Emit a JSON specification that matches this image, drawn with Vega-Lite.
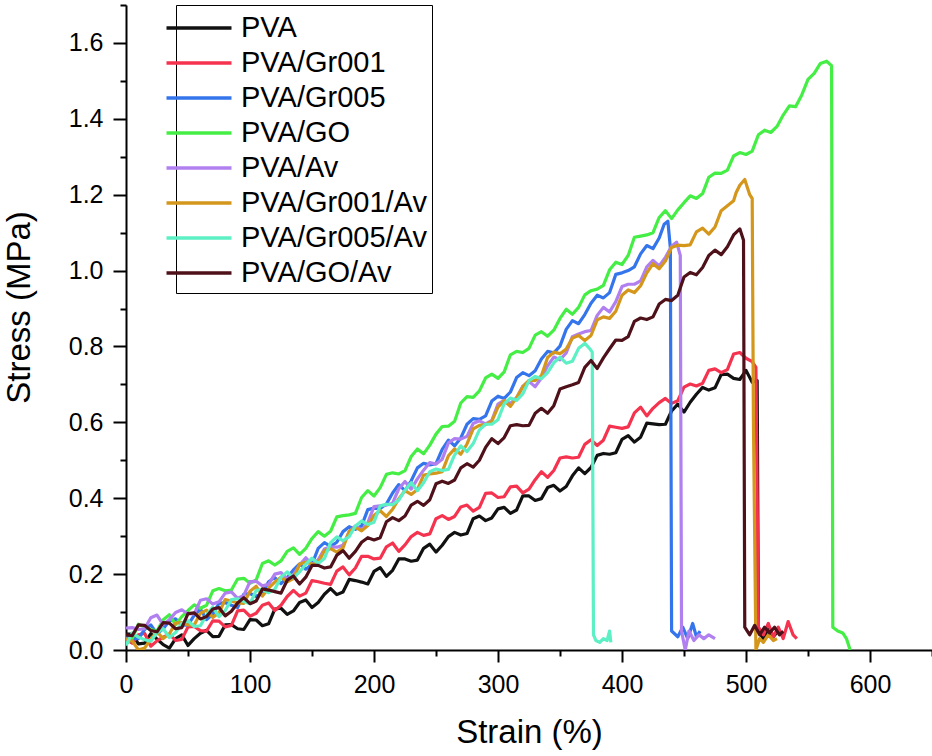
{
  "$schema": "https://vega.github.io/schema/vega-lite/v6.json",
  "width": 806,
  "height": 645,
  "autosize": {"type": "none"},
  "padding": {"left": 126, "top": 5, "right": 0, "bottom": 106},
  "background": "white",
  "config": {
    "view": {"stroke": null},
    "font": "Liberation Sans",
    "axis": {"grid": false, "domainColor": "black", "tickColor": "black", "labelColor": "black", "titleColor": "black", "domainWidth": 2, "tickWidth": 2, "labelFont": "Liberation Sans", "titleFont": "Liberation Sans", "labelFontSize": 25, "titleFontSize": 33, "titleFontWeight": "normal"}
  },
  "data": {"values": [
    {"s":"PVA","x":0,"y":0.042},{"s":"PVA","x":10,"y":0.016},{"s":"PVA","x":20,"y":0.043},{"s":"PVA","x":30,"y":0.014},{"s":"PVA","x":40,"y":0.03},{"s":"PVA","x":50,"y":0.012},{"s":"PVA","x":60,"y":0.044},{"s":"PVA","x":70,"y":0.035},{"s":"PVA","x":80,"y":0.066},{"s":"PVA","x":90,"y":0.056},{"s":"PVA","x":100,"y":0.08},{"s":"PVA","x":110,"y":0.064},{"s":"PVA","x":120,"y":0.108},{"s":"PVA","x":130,"y":0.094},{"s":"PVA","x":140,"y":0.125},{"s":"PVA","x":150,"y":0.112},{"s":"PVA","x":160,"y":0.147},{"s":"PVA","x":170,"y":0.146},{"s":"PVA","x":180,"y":0.186},{"s":"PVA","x":190,"y":0.179},{"s":"PVA","x":200,"y":0.207},{"s":"PVA","x":210,"y":0.194},{"s":"PVA","x":220,"y":0.24},{"s":"PVA","x":230,"y":0.234},{"s":"PVA","x":240,"y":0.268},{"s":"PVA","x":250,"y":0.258},{"s":"PVA","x":260,"y":0.299},{"s":"PVA","x":270,"y":0.303},{"s":"PVA","x":280,"y":0.346},{"s":"PVA","x":290,"y":0.341},{"s":"PVA","x":300,"y":0.372},{"s":"PVA","x":310,"y":0.36},{"s":"PVA","x":320,"y":0.406},{"s":"PVA","x":330,"y":0.394},{"s":"PVA","x":340,"y":0.428},{"s":"PVA","x":350,"y":0.419},{"s":"PVA","x":360,"y":0.459},{"s":"PVA","x":370,"y":0.465},{"s":"PVA","x":380,"y":0.513},{"s":"PVA","x":390,"y":0.516},{"s":"PVA","x":400,"y":0.555},{"s":"PVA","x":410,"y":0.548},{"s":"PVA","x":420,"y":0.598},{"s":"PVA","x":430,"y":0.594},{"s":"PVA","x":440,"y":0.63},{"s":"PVA","x":450,"y":0.627},{"s":"PVA","x":460,"y":0.674},{"s":"PVA","x":470,"y":0.685},{"s":"PVA","x":480,"y":0.726},{"s":"PVA","x":490,"y":0.716},{"s":"PVA","x":500,"y":0.737},{"s":"PVA","x":505,"y":0.706},{"s":"PVA","x":509,"y":0.71},{"s":"PVA","x":510,"y":0.05},{"s":"PVA","x":514,"y":0.03},{"s":"PVA","x":518,"y":0.055},{"s":"PVA","x":522,"y":0.035},{"s":"PVA","x":526,"y":0.05},{"s":"PVA","x":530,"y":0.04},
    {"s":"PVA","x":5,"y":0.042},{"s":"PVA","x":15,"y":0.018},{"s":"PVA","x":25,"y":0.029},{"s":"PVA","x":35,"y":0.005},{"s":"PVA","x":45,"y":0.04},{"s":"PVA","x":55,"y":0.03},{"s":"PVA","x":65,"y":0.052},{"s":"PVA","x":75,"y":0.036},{"s":"PVA","x":85,"y":0.067},{"s":"PVA","x":95,"y":0.054},{"s":"PVA","x":105,"y":0.079},{"s":"PVA","x":115,"y":0.069},{"s":"PVA","x":125,"y":0.11},{"s":"PVA","x":135,"y":0.103},{"s":"PVA","x":145,"y":0.132},{"s":"PVA","x":155,"y":0.125},{"s":"PVA","x":165,"y":0.162},{"s":"PVA","x":175,"y":0.153},{"s":"PVA","x":185,"y":0.183},{"s":"PVA","x":195,"y":0.174},{"s":"PVA","x":205,"y":0.217},{"s":"PVA","x":215,"y":0.21},{"s":"PVA","x":225,"y":0.24},{"s":"PVA","x":235,"y":0.237},{"s":"PVA","x":245,"y":0.279},{"s":"PVA","x":255,"y":0.276},{"s":"PVA","x":265,"y":0.31},{"s":"PVA","x":275,"y":0.307},{"s":"PVA","x":285,"y":0.353},{"s":"PVA","x":295,"y":0.348},{"s":"PVA","x":305,"y":0.376},{"s":"PVA","x":315,"y":0.369},{"s":"PVA","x":325,"y":0.406},{"s":"PVA","x":335,"y":0.399},{"s":"PVA","x":345,"y":0.434},{"s":"PVA","x":355,"y":0.431},{"s":"PVA","x":365,"y":0.48},{"s":"PVA","x":375,"y":0.481},{"s":"PVA","x":385,"y":0.518},{"s":"PVA","x":395,"y":0.52},{"s":"PVA","x":405,"y":0.565},{"s":"PVA","x":415,"y":0.561},{"s":"PVA","x":425,"y":0.596},{"s":"PVA","x":435,"y":0.595},{"s":"PVA","x":445,"y":0.648},{"s":"PVA","x":455,"y":0.653},{"s":"PVA","x":465,"y":0.692},{"s":"PVA","x":475,"y":0.691},{"s":"PVA","x":485,"y":0.727},{"s":"PVA","x":495,"y":0.713},

    {"s":"PVA/Gr001","x":0,"y":0.029},{"s":"PVA/Gr001","x":10,"y":0.04},{"s":"PVA/Gr001","x":20,"y":0.01},{"s":"PVA/Gr001","x":30,"y":0.034},{"s":"PVA/Gr001","x":40,"y":0.025},{"s":"PVA/Gr001","x":50,"y":0.061},{"s":"PVA/Gr001","x":60,"y":0.051},{"s":"PVA/Gr001","x":70,"y":0.077},{"s":"PVA/Gr001","x":80,"y":0.061},{"s":"PVA/Gr001","x":90,"y":0.103},{"s":"PVA/Gr001","x":100,"y":0.089},{"s":"PVA/Gr001","x":110,"y":0.118},{"s":"PVA/Gr001","x":120,"y":0.104},{"s":"PVA/Gr001","x":130,"y":0.141},{"s":"PVA/Gr001","x":140,"y":0.142},{"s":"PVA/Gr001","x":150,"y":0.183},{"s":"PVA/Gr001","x":160,"y":0.176},{"s":"PVA/Gr001","x":170,"y":0.208},{"s":"PVA/Gr001","x":180,"y":0.198},{"s":"PVA/Gr001","x":190,"y":0.247},{"s":"PVA/Gr001","x":200,"y":0.24},{"s":"PVA/Gr001","x":210,"y":0.272},{"s":"PVA/Gr001","x":220,"y":0.26},{"s":"PVA/Gr001","x":230,"y":0.299},{"s":"PVA/Gr001","x":240,"y":0.302},{"s":"PVA/Gr001","x":250,"y":0.346},{"s":"PVA/Gr001","x":260,"y":0.344},{"s":"PVA/Gr001","x":270,"y":0.377},{"s":"PVA/Gr001","x":280,"y":0.366},{"s":"PVA/Gr001","x":290,"y":0.413},{"s":"PVA/Gr001","x":300,"y":0.402},{"s":"PVA/Gr001","x":310,"y":0.43},{"s":"PVA/Gr001","x":320,"y":0.414},{"s":"PVA/Gr001","x":330,"y":0.449},{"s":"PVA/Gr001","x":340,"y":0.455},{"s":"PVA/Gr001","x":350,"y":0.506},{"s":"PVA/Gr001","x":360,"y":0.506},{"s":"PVA/Gr001","x":370,"y":0.542},{"s":"PVA/Gr001","x":380,"y":0.539},{"s":"PVA/Gr001","x":390,"y":0.59},{"s":"PVA/Gr001","x":400,"y":0.584},{"s":"PVA/Gr001","x":410,"y":0.625},{"s":"PVA/Gr001","x":420,"y":0.617},{"s":"PVA/Gr001","x":430,"y":0.652},{"s":"PVA/Gr001","x":440,"y":0.65},{"s":"PVA/Gr001","x":450,"y":0.693},{"s":"PVA/Gr001","x":460,"y":0.696},{"s":"PVA/Gr001","x":470,"y":0.737},{"s":"PVA/Gr001","x":480,"y":0.731},{"s":"PVA/Gr001","x":490,"y":0.78},{"s":"PVA/Gr001","x":500,"y":0.769},{"s":"PVA/Gr001","x":505,"y":0.76},{"s":"PVA/Gr001","x":508,"y":0.745},{"s":"PVA/Gr001","x":510,"y":0.06},{"s":"PVA/Gr001","x":514,"y":0.04},{"s":"PVA/Gr001","x":518,"y":0.07},{"s":"PVA/Gr001","x":522,"y":0.035},{"s":"PVA/Gr001","x":526,"y":0.06},{"s":"PVA/Gr001","x":530,"y":0.03},{"s":"PVA/Gr001","x":534,"y":0.075},{"s":"PVA/Gr001","x":538,"y":0.04},{"s":"PVA/Gr001","x":541,"y":0.03},
    {"s":"PVA/Gr001","x":5,"y":0.018},{"s":"PVA/Gr001","x":15,"y":0.044},{"s":"PVA/Gr001","x":25,"y":0.024},{"s":"PVA/Gr001","x":35,"y":0.042},{"s":"PVA/Gr001","x":45,"y":0.028},{"s":"PVA/Gr001","x":55,"y":0.062},{"s":"PVA/Gr001","x":65,"y":0.05},{"s":"PVA/Gr001","x":75,"y":0.076},{"s":"PVA/Gr001","x":85,"y":0.065},{"s":"PVA/Gr001","x":95,"y":0.105},{"s":"PVA/Gr001","x":105,"y":0.097},{"s":"PVA/Gr001","x":115,"y":0.124},{"s":"PVA/Gr001","x":125,"y":0.118},{"s":"PVA/Gr001","x":135,"y":0.157},{"s":"PVA/Gr001","x":145,"y":0.15},{"s":"PVA/Gr001","x":155,"y":0.18},{"s":"PVA/Gr001","x":165,"y":0.173},{"s":"PVA/Gr001","x":175,"y":0.219},{"s":"PVA/Gr001","x":185,"y":0.216},{"s":"PVA/Gr001","x":195,"y":0.247},{"s":"PVA/Gr001","x":205,"y":0.242},{"s":"PVA/Gr001","x":215,"y":0.282},{"s":"PVA/Gr001","x":225,"y":0.277},{"s":"PVA/Gr001","x":235,"y":0.31},{"s":"PVA/Gr001","x":245,"y":0.306},{"s":"PVA/Gr001","x":255,"y":0.354},{"s":"PVA/Gr001","x":265,"y":0.352},{"s":"PVA/Gr001","x":275,"y":0.382},{"s":"PVA/Gr001","x":285,"y":0.376},{"s":"PVA/Gr001","x":295,"y":0.414},{"s":"PVA/Gr001","x":305,"y":0.404},{"s":"PVA/Gr001","x":315,"y":0.432},{"s":"PVA/Gr001","x":325,"y":0.424},{"s":"PVA/Gr001","x":335,"y":0.47},{"s":"PVA/Gr001","x":345,"y":0.473},{"s":"PVA/Gr001","x":355,"y":0.509},{"s":"PVA/Gr001","x":365,"y":0.508},{"s":"PVA/Gr001","x":375,"y":0.554},{"s":"PVA/Gr001","x":385,"y":0.553},{"s":"PVA/Gr001","x":395,"y":0.587},{"s":"PVA/Gr001","x":405,"y":0.588},{"s":"PVA/Gr001","x":415,"y":0.64},{"s":"PVA/Gr001","x":425,"y":0.637},{"s":"PVA/Gr001","x":435,"y":0.663},{"s":"PVA/Gr001","x":445,"y":0.657},{"s":"PVA/Gr001","x":455,"y":0.701},{"s":"PVA/Gr001","x":465,"y":0.703},{"s":"PVA/Gr001","x":475,"y":0.741},{"s":"PVA/Gr001","x":485,"y":0.739},{"s":"PVA/Gr001","x":495,"y":0.784},

    {"s":"PVA/Gr005","x":0,"y":0.034},{"s":"PVA/Gr005","x":10,"y":0.03},{"s":"PVA/Gr005","x":20,"y":0.066},{"s":"PVA/Gr005","x":30,"y":0.056},{"s":"PVA/Gr005","x":40,"y":0.082},{"s":"PVA/Gr005","x":50,"y":0.066},{"s":"PVA/Gr005","x":60,"y":0.108},{"s":"PVA/Gr005","x":70,"y":0.094},{"s":"PVA/Gr005","x":80,"y":0.125},{"s":"PVA/Gr005","x":90,"y":0.112},{"s":"PVA/Gr005","x":100,"y":0.149},{"s":"PVA/Gr005","x":110,"y":0.15},{"s":"PVA/Gr005","x":120,"y":0.191},{"s":"PVA/Gr005","x":130,"y":0.191},{"s":"PVA/Gr005","x":140,"y":0.227},{"s":"PVA/Gr005","x":150,"y":0.226},{"s":"PVA/Gr005","x":160,"y":0.283},{"s":"PVA/Gr005","x":170,"y":0.284},{"s":"PVA/Gr005","x":180,"y":0.325},{"s":"PVA/Gr005","x":190,"y":0.327},{"s":"PVA/Gr005","x":200,"y":0.374},{"s":"PVA/Gr005","x":210,"y":0.385},{"s":"PVA/Gr005","x":220,"y":0.436},{"s":"PVA/Gr005","x":230,"y":0.446},{"s":"PVA/Gr005","x":240,"y":0.492},{"s":"PVA/Gr005","x":250,"y":0.491},{"s":"PVA/Gr005","x":260,"y":0.553},{"s":"PVA/Gr005","x":270,"y":0.559},{"s":"PVA/Gr005","x":280,"y":0.61},{"s":"PVA/Gr005","x":290,"y":0.617},{"s":"PVA/Gr005","x":300,"y":0.669},{"s":"PVA/Gr005","x":310,"y":0.68},{"s":"PVA/Gr005","x":320,"y":0.731},{"s":"PVA/Gr005","x":330,"y":0.736},{"s":"PVA/Gr005","x":340,"y":0.787},{"s":"PVA/Gr005","x":350,"y":0.801},{"s":"PVA/Gr005","x":360,"y":0.868},{"s":"PVA/Gr005","x":370,"y":0.884},{"s":"PVA/Gr005","x":380,"y":0.935},{"s":"PVA/Gr005","x":390,"y":0.942},{"s":"PVA/Gr005","x":400,"y":0.994},{"s":"PVA/Gr005","x":410,"y":1.01},{"s":"PVA/Gr005","x":420,"y":1.066},{"s":"PVA/Gr005","x":430,"y":1.086},{"s":"PVA/Gr005","x":437,"y":1.13},{"s":"PVA/Gr005","x":439,"y":1.06},{"s":"PVA/Gr005","x":440,"y":0.05},{"s":"PVA/Gr005","x":445,"y":0.035},{"s":"PVA/Gr005","x":449,"y":0.06},{"s":"PVA/Gr005","x":453,"y":0.03},{"s":"PVA/Gr005","x":457,"y":0.07},{"s":"PVA/Gr005","x":460,"y":0.035},{"s":"PVA/Gr005","x":463,"y":0.05},
    {"s":"PVA/Gr005","x":5,"y":0.03},{"s":"PVA/Gr005","x":15,"y":0.054},{"s":"PVA/Gr005","x":25,"y":0.043},{"s":"PVA/Gr005","x":35,"y":0.077},{"s":"PVA/Gr005","x":45,"y":0.065},{"s":"PVA/Gr005","x":55,"y":0.091},{"s":"PVA/Gr005","x":65,"y":0.08},{"s":"PVA/Gr005","x":75,"y":0.123},{"s":"PVA/Gr005","x":85,"y":0.118},{"s":"PVA/Gr005","x":95,"y":0.147},{"s":"PVA/Gr005","x":105,"y":0.141},{"s":"PVA/Gr005","x":115,"y":0.18},{"s":"PVA/Gr005","x":125,"y":0.175},{"s":"PVA/Gr005","x":135,"y":0.211},{"s":"PVA/Gr005","x":145,"y":0.213},{"s":"PVA/Gr005","x":155,"y":0.268},{"s":"PVA/Gr005","x":165,"y":0.273},{"s":"PVA/Gr005","x":175,"y":0.312},{"s":"PVA/Gr005","x":185,"y":0.318},{"s":"PVA/Gr005","x":195,"y":0.37},{"s":"PVA/Gr005","x":205,"y":0.373},{"s":"PVA/Gr005","x":215,"y":0.414},{"s":"PVA/Gr005","x":225,"y":0.42},{"s":"PVA/Gr005","x":235,"y":0.48},{"s":"PVA/Gr005","x":245,"y":0.488},{"s":"PVA/Gr005","x":255,"y":0.529},{"s":"PVA/Gr005","x":265,"y":0.538},{"s":"PVA/Gr005","x":275,"y":0.595},{"s":"PVA/Gr005","x":285,"y":0.608},{"s":"PVA/Gr005","x":295,"y":0.656},{"s":"PVA/Gr005","x":305,"y":0.663},{"s":"PVA/Gr005","x":315,"y":0.718},{"s":"PVA/Gr005","x":325,"y":0.723},{"s":"PVA/Gr005","x":335,"y":0.767},{"s":"PVA/Gr005","x":345,"y":0.783},{"s":"PVA/Gr005","x":355,"y":0.845},{"s":"PVA/Gr005","x":365,"y":0.86},{"s":"PVA/Gr005","x":375,"y":0.914},{"s":"PVA/Gr005","x":385,"y":0.928},{"s":"PVA/Gr005","x":395,"y":0.99},{"s":"PVA/Gr005","x":405,"y":1.0},{"s":"PVA/Gr005","x":415,"y":1.044},{"s":"PVA/Gr005","x":425,"y":1.058},{"s":"PVA/Gr005","x":434,"y":1.122},

    {"s":"PVA/GO","x":0,"y":0.016},{"s":"PVA/GO","x":10,"y":0.068},{"s":"PVA/GO","x":20,"y":0.054},{"s":"PVA/GO","x":30,"y":0.08},{"s":"PVA/GO","x":40,"y":0.067},{"s":"PVA/GO","x":50,"y":0.104},{"s":"PVA/GO","x":60,"y":0.11},{"s":"PVA/GO","x":70,"y":0.156},{"s":"PVA/GO","x":80,"y":0.156},{"s":"PVA/GO","x":90,"y":0.187},{"s":"PVA/GO","x":100,"y":0.176},{"s":"PVA/GO","x":110,"y":0.228},{"s":"PVA/GO","x":120,"y":0.224},{"s":"PVA/GO","x":130,"y":0.26},{"s":"PVA/GO","x":140,"y":0.252},{"s":"PVA/GO","x":150,"y":0.294},{"s":"PVA/GO","x":160,"y":0.3},{"s":"PVA/GO","x":170,"y":0.351},{"s":"PVA/GO","x":180,"y":0.356},{"s":"PVA/GO","x":190,"y":0.402},{"s":"PVA/GO","x":200,"y":0.406},{"s":"PVA/GO","x":210,"y":0.463},{"s":"PVA/GO","x":220,"y":0.464},{"s":"PVA/GO","x":230,"y":0.51},{"s":"PVA/GO","x":240,"y":0.517},{"s":"PVA/GO","x":250,"y":0.569},{"s":"PVA/GO","x":260,"y":0.59},{"s":"PVA/GO","x":270,"y":0.651},{"s":"PVA/GO","x":280,"y":0.666},{"s":"PVA/GO","x":290,"y":0.717},{"s":"PVA/GO","x":300,"y":0.716},{"s":"PVA/GO","x":310,"y":0.778},{"s":"PVA/GO","x":320,"y":0.784},{"s":"PVA/GO","x":330,"y":0.83},{"s":"PVA/GO","x":340,"y":0.827},{"s":"PVA/GO","x":350,"y":0.874},{"s":"PVA/GO","x":360,"y":0.885},{"s":"PVA/GO","x":370,"y":0.936},{"s":"PVA/GO","x":380,"y":0.951},{"s":"PVA/GO","x":390,"y":1.002},{"s":"PVA/GO","x":400,"y":1.016},{"s":"PVA/GO","x":410,"y":1.088},{"s":"PVA/GO","x":420,"y":1.094},{"s":"PVA/GO","x":430,"y":1.14},{"s":"PVA/GO","x":440,"y":1.137},{"s":"PVA/GO","x":450,"y":1.179},{"s":"PVA/GO","x":460,"y":1.19},{"s":"PVA/GO","x":470,"y":1.246},{"s":"PVA/GO","x":480,"y":1.256},{"s":"PVA/GO","x":490,"y":1.302},{"s":"PVA/GO","x":500,"y":1.306},{"s":"PVA/GO","x":510,"y":1.358},{"s":"PVA/GO","x":520,"y":1.364},{"s":"PVA/GO","x":530,"y":1.41},{"s":"PVA/GO","x":540,"y":1.432},{"s":"PVA/GO","x":550,"y":1.504},{"s":"PVA/GO","x":555,"y":1.52},{"s":"PVA/GO","x":560,"y":1.546},{"s":"PVA/GO","x":565,"y":1.552},{"s":"PVA/GO","x":569,"y":1.54},{"s":"PVA/GO","x":570,"y":0.06},{"s":"PVA/GO","x":574,"y":0.05},{"s":"PVA/GO","x":578,"y":0.045},{"s":"PVA/GO","x":581,"y":0.03},{"s":"PVA/GO","x":584,"y":0.0},
    {"s":"PVA/GO","x":5,"y":0.03},{"s":"PVA/GO","x":15,"y":0.061},{"s":"PVA/GO","x":25,"y":0.05},{"s":"PVA/GO","x":35,"y":0.093},{"s":"PVA/GO","x":45,"y":0.088},{"s":"PVA/GO","x":55,"y":0.119},{"s":"PVA/GO","x":65,"y":0.118},{"s":"PVA/GO","x":75,"y":0.162},{"s":"PVA/GO","x":85,"y":0.158},{"s":"PVA/GO","x":95,"y":0.189},{"s":"PVA/GO","x":105,"y":0.185},{"s":"PVA/GO","x":115,"y":0.235},{"s":"PVA/GO","x":125,"y":0.235},{"s":"PVA/GO","x":135,"y":0.269},{"s":"PVA/GO","x":145,"y":0.268},{"s":"PVA/GO","x":155,"y":0.312},{"s":"PVA/GO","x":165,"y":0.313},{"s":"PVA/GO","x":175,"y":0.354},{"s":"PVA/GO","x":185,"y":0.36},{"s":"PVA/GO","x":195,"y":0.42},{"s":"PVA/GO","x":205,"y":0.428},{"s":"PVA/GO","x":215,"y":0.467},{"s":"PVA/GO","x":225,"y":0.473},{"s":"PVA/GO","x":235,"y":0.53},{"s":"PVA/GO","x":245,"y":0.54},{"s":"PVA/GO","x":255,"y":0.589},{"s":"PVA/GO","x":265,"y":0.603},{"s":"PVA/GO","x":275,"y":0.668},{"s":"PVA/GO","x":285,"y":0.683},{"s":"PVA/GO","x":295,"y":0.727},{"s":"PVA/GO","x":305,"y":0.733},{"s":"PVA/GO","x":315,"y":0.787},{"s":"PVA/GO","x":325,"y":0.795},{"s":"PVA/GO","x":335,"y":0.839},{"s":"PVA/GO","x":345,"y":0.843},{"s":"PVA/GO","x":355,"y":0.898},{"s":"PVA/GO","x":365,"y":0.903},{"s":"PVA/GO","x":375,"y":0.947},{"s":"PVA/GO","x":385,"y":0.961},{"s":"PVA/GO","x":395,"y":1.022},{"s":"PVA/GO","x":405,"y":1.04},{"s":"PVA/GO","x":415,"y":1.091},{"s":"PVA/GO","x":425,"y":1.1},{"s":"PVA/GO","x":435,"y":1.158},{"s":"PVA/GO","x":445,"y":1.16},{"s":"PVA/GO","x":455,"y":1.197},{"s":"PVA/GO","x":465,"y":1.203},{"s":"PVA/GO","x":475,"y":1.257},{"s":"PVA/GO","x":485,"y":1.265},{"s":"PVA/GO","x":495,"y":1.311},{"s":"PVA/GO","x":505,"y":1.315},{"s":"PVA/GO","x":515,"y":1.37},{"s":"PVA/GO","x":525,"y":1.38},{"s":"PVA/GO","x":535,"y":1.434},{"s":"PVA/GO","x":545,"y":1.463},

    {"s":"PVA/Av","x":0,"y":0.058},{"s":"PVA/Av","x":10,"y":0.054},{"s":"PVA/Av","x":20,"y":0.085},{"s":"PVA/Av","x":30,"y":0.067},{"s":"PVA/Av","x":40,"y":0.099},{"s":"PVA/Av","x":50,"y":0.095},{"s":"PVA/Av","x":60,"y":0.131},{"s":"PVA/Av","x":70,"y":0.121},{"s":"PVA/Av","x":80,"y":0.15},{"s":"PVA/Av","x":90,"y":0.136},{"s":"PVA/Av","x":100,"y":0.18},{"s":"PVA/Av","x":110,"y":0.169},{"s":"PVA/Av","x":120,"y":0.2},{"s":"PVA/Av","x":130,"y":0.187},{"s":"PVA/Av","x":140,"y":0.224},{"s":"PVA/Av","x":150,"y":0.225},{"s":"PVA/Av","x":160,"y":0.266},{"s":"PVA/Av","x":170,"y":0.271},{"s":"PVA/Av","x":180,"y":0.312},{"s":"PVA/Av","x":190,"y":0.316},{"s":"PVA/Av","x":200,"y":0.378},{"s":"PVA/Av","x":210,"y":0.382},{"s":"PVA/Av","x":220,"y":0.425},{"s":"PVA/Av","x":230,"y":0.424},{"s":"PVA/Av","x":240,"y":0.474},{"s":"PVA/Av","x":250,"y":0.49},{"s":"PVA/Av","x":260,"y":0.546},{"s":"PVA/Av","x":270,"y":0.556},{"s":"PVA/Av","x":280,"y":0.597},{"s":"PVA/Av","x":290,"y":0.596},{"s":"PVA/Av","x":300,"y":0.648},{"s":"PVA/Av","x":310,"y":0.649},{"s":"PVA/Av","x":320,"y":0.695},{"s":"PVA/Av","x":330,"y":0.694},{"s":"PVA/Av","x":340,"y":0.749},{"s":"PVA/Av","x":350,"y":0.765},{"s":"PVA/Av","x":360,"y":0.826},{"s":"PVA/Av","x":370,"y":0.839},{"s":"PVA/Av","x":380,"y":0.882},{"s":"PVA/Av","x":390,"y":0.891},{"s":"PVA/Av","x":400,"y":0.958},{"s":"PVA/Av","x":410,"y":0.964},{"s":"PVA/Av","x":420,"y":1.01},{"s":"PVA/Av","x":430,"y":1.012},{"s":"PVA/Av","x":440,"y":1.064},{"s":"PVA/Av","x":444,"y":1.075},{"s":"PVA/Av","x":447,"y":1.04},{"s":"PVA/Av","x":448,"y":0.05},{"s":"PVA/Av","x":451,"y":0.0},{"s":"PVA/Av","x":454,"y":0.05},{"s":"PVA/Av","x":458,"y":0.025},{"s":"PVA/Av","x":462,"y":0.04},{"s":"PVA/Av","x":466,"y":0.03},{"s":"PVA/Av","x":470,"y":0.04},{"s":"PVA/Av","x":475,"y":0.03},
    {"s":"PVA/Av","x":5,"y":0.059},{"s":"PVA/Av","x":15,"y":0.056},{"s":"PVA/Av","x":25,"y":0.092},{"s":"PVA/Av","x":35,"y":0.08},{"s":"PVA/Av","x":45,"y":0.106},{"s":"PVA/Av","x":55,"y":0.095},{"s":"PVA/Av","x":65,"y":0.135},{"s":"PVA/Av","x":75,"y":0.127},{"s":"PVA/Av","x":85,"y":0.153},{"s":"PVA/Av","x":95,"y":0.144},{"s":"PVA/Av","x":105,"y":0.181},{"s":"PVA/Av","x":115,"y":0.173},{"s":"PVA/Av","x":125,"y":0.204},{"s":"PVA/Av","x":135,"y":0.198},{"s":"PVA/Av","x":145,"y":0.243},{"s":"PVA/Av","x":155,"y":0.238},{"s":"PVA/Av","x":165,"y":0.272},{"s":"PVA/Av","x":175,"y":0.276},{"s":"PVA/Av","x":185,"y":0.327},{"s":"PVA/Av","x":195,"y":0.335},{"s":"PVA/Av","x":205,"y":0.38},{"s":"PVA/Av","x":215,"y":0.387},{"s":"PVA/Av","x":225,"y":0.444},{"s":"PVA/Av","x":235,"y":0.451},{"s":"PVA/Av","x":245,"y":0.494},{"s":"PVA/Av","x":255,"y":0.503},{"s":"PVA/Av","x":265,"y":0.557},{"s":"PVA/Av","x":275,"y":0.563},{"s":"PVA/Av","x":285,"y":0.604},{"s":"PVA/Av","x":295,"y":0.605},{"s":"PVA/Av","x":305,"y":0.658},{"s":"PVA/Av","x":315,"y":0.665},{"s":"PVA/Av","x":325,"y":0.708},{"s":"PVA/Av","x":335,"y":0.717},{"s":"PVA/Av","x":345,"y":0.772},{"s":"PVA/Av","x":355,"y":0.783},{"s":"PVA/Av","x":365,"y":0.833},{"s":"PVA/Av","x":375,"y":0.842},{"s":"PVA/Av","x":385,"y":0.903},{"s":"PVA/Av","x":395,"y":0.918},{"s":"PVA/Av","x":405,"y":0.964},{"s":"PVA/Av","x":415,"y":0.973},{"s":"PVA/Av","x":425,"y":1.027},{"s":"PVA/Av","x":435,"y":1.035},

    {"s":"PVA/Gr001/Av","x":0,"y":0.03},{"s":"PVA/Gr001/Av","x":10,"y":0.0},{"s":"PVA/Gr001/Av","x":20,"y":0.029},{"s":"PVA/Gr001/Av","x":30,"y":0.03},{"s":"PVA/Gr001/Av","x":40,"y":0.071},{"s":"PVA/Gr001/Av","x":50,"y":0.066},{"s":"PVA/Gr001/Av","x":60,"y":0.097},{"s":"PVA/Gr001/Av","x":70,"y":0.086},{"s":"PVA/Gr001/Av","x":80,"y":0.133},{"s":"PVA/Gr001/Av","x":90,"y":0.124},{"s":"PVA/Gr001/Av","x":100,"y":0.155},{"s":"PVA/Gr001/Av","x":110,"y":0.142},{"s":"PVA/Gr001/Av","x":120,"y":0.179},{"s":"PVA/Gr001/Av","x":130,"y":0.18},{"s":"PVA/Gr001/Av","x":140,"y":0.226},{"s":"PVA/Gr001/Av","x":150,"y":0.226},{"s":"PVA/Gr001/Av","x":160,"y":0.262},{"s":"PVA/Gr001/Av","x":170,"y":0.258},{"s":"PVA/Gr001/Av","x":180,"y":0.313},{"s":"PVA/Gr001/Av","x":190,"y":0.314},{"s":"PVA/Gr001/Av","x":200,"y":0.355},{"s":"PVA/Gr001/Av","x":210,"y":0.352},{"s":"PVA/Gr001/Av","x":220,"y":0.399},{"s":"PVA/Gr001/Av","x":230,"y":0.41},{"s":"PVA/Gr001/Av","x":240,"y":0.461},{"s":"PVA/Gr001/Av","x":250,"y":0.466},{"s":"PVA/Gr001/Av","x":260,"y":0.512},{"s":"PVA/Gr001/Av","x":270,"y":0.516},{"s":"PVA/Gr001/Av","x":280,"y":0.583},{"s":"PVA/Gr001/Av","x":290,"y":0.594},{"s":"PVA/Gr001/Av","x":300,"y":0.64},{"s":"PVA/Gr001/Av","x":310,"y":0.642},{"s":"PVA/Gr001/Av","x":320,"y":0.694},{"s":"PVA/Gr001/Av","x":330,"y":0.71},{"s":"PVA/Gr001/Av","x":340,"y":0.771},{"s":"PVA/Gr001/Av","x":350,"y":0.781},{"s":"PVA/Gr001/Av","x":360,"y":0.822},{"s":"PVA/Gr001/Av","x":370,"y":0.816},{"s":"PVA/Gr001/Av","x":380,"y":0.87},{"s":"PVA/Gr001/Av","x":390,"y":0.874},{"s":"PVA/Gr001/Av","x":400,"y":0.935},{"s":"PVA/Gr001/Av","x":410,"y":0.942},{"s":"PVA/Gr001/Av","x":420,"y":0.994},{"s":"PVA/Gr001/Av","x":430,"y":1.005},{"s":"PVA/Gr001/Av","x":440,"y":1.061},{"s":"PVA/Gr001/Av","x":450,"y":1.066},{"s":"PVA/Gr001/Av","x":460,"y":1.102},{"s":"PVA/Gr001/Av","x":470,"y":1.096},{"s":"PVA/Gr001/Av","x":480,"y":1.158},{"s":"PVA/Gr001/Av","x":490,"y":1.184},{"s":"PVA/Gr001/Av","x":495,"y":1.225},{"s":"PVA/Gr001/Av","x":499,"y":1.24},{"s":"PVA/Gr001/Av","x":503,"y":1.2},{"s":"PVA/Gr001/Av","x":505,"y":1.19},{"s":"PVA/Gr001/Av","x":506,"y":0.6},{"s":"PVA/Gr001/Av","x":508,"y":0.0},{"s":"PVA/Gr001/Av","x":511,"y":0.03},{"s":"PVA/Gr001/Av","x":514,"y":0.02},{"s":"PVA/Gr001/Av","x":518,"y":0.04},{"s":"PVA/Gr001/Av","x":522,"y":0.025},{"s":"PVA/Gr001/Av","x":525,"y":0.03},
    {"s":"PVA/Gr001/Av","x":5,"y":0.024},{"s":"PVA/Gr001/Av","x":15,"y":0.005},{"s":"PVA/Gr001/Av","x":25,"y":0.048},{"s":"PVA/Gr001/Av","x":35,"y":0.043},{"s":"PVA/Gr001/Av","x":45,"y":0.072},{"s":"PVA/Gr001/Av","x":55,"y":0.066},{"s":"PVA/Gr001/Av","x":65,"y":0.105},{"s":"PVA/Gr001/Av","x":75,"y":0.098},{"s":"PVA/Gr001/Av","x":85,"y":0.129},{"s":"PVA/Gr001/Av","x":95,"y":0.123},{"s":"PVA/Gr001/Av","x":105,"y":0.168},{"s":"PVA/Gr001/Av","x":115,"y":0.163},{"s":"PVA/Gr001/Av","x":125,"y":0.192},{"s":"PVA/Gr001/Av","x":135,"y":0.188},{"s":"PVA/Gr001/Av","x":145,"y":0.232},{"s":"PVA/Gr001/Av","x":155,"y":0.23},{"s":"PVA/Gr001/Av","x":165,"y":0.267},{"s":"PVA/Gr001/Av","x":175,"y":0.269},{"s":"PVA/Gr001/Av","x":185,"y":0.323},{"s":"PVA/Gr001/Av","x":195,"y":0.328},{"s":"PVA/Gr001/Av","x":205,"y":0.367},{"s":"PVA/Gr001/Av","x":215,"y":0.371},{"s":"PVA/Gr001/Av","x":225,"y":0.42},{"s":"PVA/Gr001/Av","x":235,"y":0.423},{"s":"PVA/Gr001/Av","x":245,"y":0.464},{"s":"PVA/Gr001/Av","x":255,"y":0.47},{"s":"PVA/Gr001/Av","x":265,"y":0.53},{"s":"PVA/Gr001/Av","x":275,"y":0.543},{"s":"PVA/Gr001/Av","x":285,"y":0.592},{"s":"PVA/Gr001/Av","x":295,"y":0.603},{"s":"PVA/Gr001/Av","x":305,"y":0.657},{"s":"PVA/Gr001/Av","x":315,"y":0.665},{"s":"PVA/Gr001/Av","x":325,"y":0.711},{"s":"PVA/Gr001/Av","x":335,"y":0.723},{"s":"PVA/Gr001/Av","x":345,"y":0.785},{"s":"PVA/Gr001/Av","x":355,"y":0.793},{"s":"PVA/Gr001/Av","x":365,"y":0.829},{"s":"PVA/Gr001/Av","x":375,"y":0.829},{"s":"PVA/Gr001/Av","x":385,"y":0.878},{"s":"PVA/Gr001/Av","x":395,"y":0.893},{"s":"PVA/Gr001/Av","x":405,"y":0.949},{"s":"PVA/Gr001/Av","x":415,"y":0.96},{"s":"PVA/Gr001/Av","x":425,"y":1.018},{"s":"PVA/Gr001/Av","x":435,"y":1.025},{"s":"PVA/Gr001/Av","x":445,"y":1.067},{"s":"PVA/Gr001/Av","x":455,"y":1.068},{"s":"PVA/Gr001/Av","x":465,"y":1.112},{"s":"PVA/Gr001/Av","x":475,"y":1.115},{"s":"PVA/Gr001/Av","x":485,"y":1.171},{"s":"PVA/Gr001/Av","x":492,"y":1.205},

    {"s":"PVA/Gr005/Av","x":0,"y":0.012},{"s":"PVA/Gr005/Av","x":10,"y":0.034},{"s":"PVA/Gr005/Av","x":20,"y":0.023},{"s":"PVA/Gr005/Av","x":30,"y":0.056},{"s":"PVA/Gr005/Av","x":40,"y":0.046},{"s":"PVA/Gr005/Av","x":50,"y":0.077},{"s":"PVA/Gr005/Av","x":60,"y":0.064},{"s":"PVA/Gr005/Av","x":70,"y":0.113},{"s":"PVA/Gr005/Av","x":80,"y":0.104},{"s":"PVA/Gr005/Av","x":90,"y":0.135},{"s":"PVA/Gr005/Av","x":100,"y":0.122},{"s":"PVA/Gr005/Av","x":110,"y":0.159},{"s":"PVA/Gr005/Av","x":120,"y":0.16},{"s":"PVA/Gr005/Av","x":130,"y":0.206},{"s":"PVA/Gr005/Av","x":140,"y":0.206},{"s":"PVA/Gr005/Av","x":150,"y":0.242},{"s":"PVA/Gr005/Av","x":160,"y":0.241},{"s":"PVA/Gr005/Av","x":170,"y":0.298},{"s":"PVA/Gr005/Av","x":180,"y":0.299},{"s":"PVA/Gr005/Av","x":190,"y":0.34},{"s":"PVA/Gr005/Av","x":200,"y":0.337},{"s":"PVA/Gr005/Av","x":210,"y":0.384},{"s":"PVA/Gr005/Av","x":220,"y":0.395},{"s":"PVA/Gr005/Av","x":230,"y":0.441},{"s":"PVA/Gr005/Av","x":240,"y":0.441},{"s":"PVA/Gr005/Av","x":250,"y":0.477},{"s":"PVA/Gr005/Av","x":260,"y":0.476},{"s":"PVA/Gr005/Av","x":270,"y":0.538},{"s":"PVA/Gr005/Av","x":280,"y":0.544},{"s":"PVA/Gr005/Av","x":290,"y":0.595},{"s":"PVA/Gr005/Av","x":300,"y":0.607},{"s":"PVA/Gr005/Av","x":310,"y":0.664},{"s":"PVA/Gr005/Av","x":320,"y":0.675},{"s":"PVA/Gr005/Av","x":330,"y":0.721},{"s":"PVA/Gr005/Av","x":340,"y":0.731},{"s":"PVA/Gr005/Av","x":350,"y":0.772},{"s":"PVA/Gr005/Av","x":360,"y":0.761},{"s":"PVA/Gr005/Av","x":370,"y":0.808},{"s":"PVA/Gr005/Av","x":374,"y":0.794},{"s":"PVA/Gr005/Av","x":376,"y":0.785},{"s":"PVA/Gr005/Av","x":377,"y":0.04},{"s":"PVA/Gr005/Av","x":379,"y":0.025},{"s":"PVA/Gr005/Av","x":382,"y":0.02},{"s":"PVA/Gr005/Av","x":385,"y":0.03},{"s":"PVA/Gr005/Av","x":388,"y":0.025},{"s":"PVA/Gr005/Av","x":390,"y":0.05},{"s":"PVA/Gr005/Av","x":391,"y":0.02},
    {"s":"PVA/Gr005/Av","x":5,"y":0.045},{"s":"PVA/Gr005/Av","x":15,"y":0.027},{"s":"PVA/Gr005/Av","x":25,"y":0.046},{"s":"PVA/Gr005/Av","x":35,"y":0.033},{"s":"PVA/Gr005/Av","x":45,"y":0.07},{"s":"PVA/Gr005/Av","x":55,"y":0.062},{"s":"PVA/Gr005/Av","x":65,"y":0.093},{"s":"PVA/Gr005/Av","x":75,"y":0.088},{"s":"PVA/Gr005/Av","x":85,"y":0.133},{"s":"PVA/Gr005/Av","x":95,"y":0.128},{"s":"PVA/Gr005/Av","x":105,"y":0.157},{"s":"PVA/Gr005/Av","x":115,"y":0.151},{"s":"PVA/Gr005/Av","x":125,"y":0.192},{"s":"PVA/Gr005/Av","x":135,"y":0.19},{"s":"PVA/Gr005/Av","x":145,"y":0.226},{"s":"PVA/Gr005/Av","x":155,"y":0.228},{"s":"PVA/Gr005/Av","x":165,"y":0.283},{"s":"PVA/Gr005/Av","x":175,"y":0.288},{"s":"PVA/Gr005/Av","x":185,"y":0.327},{"s":"PVA/Gr005/Av","x":195,"y":0.331},{"s":"PVA/Gr005/Av","x":205,"y":0.38},{"s":"PVA/Gr005/Av","x":215,"y":0.383},{"s":"PVA/Gr005/Av","x":225,"y":0.421},{"s":"PVA/Gr005/Av","x":235,"y":0.42},{"s":"PVA/Gr005/Av","x":245,"y":0.47},{"s":"PVA/Gr005/Av","x":255,"y":0.473},{"s":"PVA/Gr005/Av","x":265,"y":0.514},{"s":"PVA/Gr005/Av","x":275,"y":0.523},{"s":"PVA/Gr005/Av","x":285,"y":0.58},{"s":"PVA/Gr005/Av","x":295,"y":0.595},{"s":"PVA/Gr005/Av","x":305,"y":0.649},{"s":"PVA/Gr005/Av","x":315,"y":0.658},{"s":"PVA/Gr005/Av","x":325,"y":0.71},{"s":"PVA/Gr005/Av","x":335,"y":0.715},{"s":"PVA/Gr005/Av","x":345,"y":0.757},{"s":"PVA/Gr005/Av","x":355,"y":0.756},{"s":"PVA/Gr005/Av","x":365,"y":0.795},

    {"s":"PVA/GO/Av","x":0,"y":0.04},{"s":"PVA/GO/Av","x":10,"y":0.066},{"s":"PVA/GO/Av","x":20,"y":0.051},{"s":"PVA/GO/Av","x":30,"y":0.072},{"s":"PVA/GO/Av","x":40,"y":0.056},{"s":"PVA/GO/Av","x":50,"y":0.096},{"s":"PVA/GO/Av","x":60,"y":0.082},{"s":"PVA/GO/Av","x":70,"y":0.108},{"s":"PVA/GO/Av","x":80,"y":0.09},{"s":"PVA/GO/Av","x":90,"y":0.124},{"s":"PVA/GO/Av","x":100,"y":0.122},{"s":"PVA/GO/Av","x":110,"y":0.161},{"s":"PVA/GO/Av","x":120,"y":0.154},{"s":"PVA/GO/Av","x":130,"y":0.184},{"s":"PVA/GO/Av","x":140,"y":0.174},{"s":"PVA/GO/Av","x":150,"y":0.223},{"s":"PVA/GO/Av","x":160,"y":0.216},{"s":"PVA/GO/Av","x":170,"y":0.25},{"s":"PVA/GO/Av","x":180,"y":0.242},{"s":"PVA/GO/Av","x":190,"y":0.284},{"s":"PVA/GO/Av","x":200,"y":0.29},{"s":"PVA/GO/Av","x":210,"y":0.338},{"s":"PVA/GO/Av","x":220,"y":0.341},{"s":"PVA/GO/Av","x":230,"y":0.382},{"s":"PVA/GO/Av","x":240,"y":0.381},{"s":"PVA/GO/Av","x":250,"y":0.438},{"s":"PVA/GO/Av","x":260,"y":0.439},{"s":"PVA/GO/Av","x":270,"y":0.48},{"s":"PVA/GO/Av","x":280,"y":0.482},{"s":"PVA/GO/Av","x":290,"y":0.534},{"s":"PVA/GO/Av","x":300,"y":0.544},{"s":"PVA/GO/Av","x":310,"y":0.591},{"s":"PVA/GO/Av","x":320,"y":0.591},{"s":"PVA/GO/Av","x":330,"y":0.624},{"s":"PVA/GO/Av","x":340,"y":0.624},{"s":"PVA/GO/Av","x":350,"y":0.688},{"s":"PVA/GO/Av","x":360,"y":0.699},{"s":"PVA/GO/Av","x":370,"y":0.745},{"s":"PVA/GO/Av","x":380,"y":0.742},{"s":"PVA/GO/Av","x":390,"y":0.794},{"s":"PVA/GO/Av","x":400,"y":0.816},{"s":"PVA/GO/Av","x":410,"y":0.866},{"s":"PVA/GO/Av","x":420,"y":0.871},{"s":"PVA/GO/Av","x":430,"y":0.912},{"s":"PVA/GO/Av","x":440,"y":0.921},{"s":"PVA/GO/Av","x":450,"y":0.983},{"s":"PVA/GO/Av","x":460,"y":0.989},{"s":"PVA/GO/Av","x":470,"y":1.04},{"s":"PVA/GO/Av","x":480,"y":1.042},{"s":"PVA/GO/Av","x":490,"y":1.094},{"s":"PVA/GO/Av","x":495,"y":1.11},{"s":"PVA/GO/Av","x":498,"y":1.08},{"s":"PVA/GO/Av","x":499,"y":0.06},{"s":"PVA/GO/Av","x":503,"y":0.04},{"s":"PVA/GO/Av","x":507,"y":0.065},{"s":"PVA/GO/Av","x":511,"y":0.04},{"s":"PVA/GO/Av","x":515,"y":0.06},{"s":"PVA/GO/Av","x":519,"y":0.045},{"s":"PVA/GO/Av","x":523,"y":0.06},{"s":"PVA/GO/Av","x":527,"y":0.04},{"s":"PVA/GO/Av","x":530,"y":0.05},
    {"s":"PVA/GO/Av","x":5,"y":0.038},{"s":"PVA/GO/Av","x":15,"y":0.065},{"s":"PVA/GO/Av","x":25,"y":0.048},{"s":"PVA/GO/Av","x":35,"y":0.071},{"s":"PVA/GO/Av","x":45,"y":0.059},{"s":"PVA/GO/Av","x":55,"y":0.098},{"s":"PVA/GO/Av","x":65,"y":0.088},{"s":"PVA/GO/Av","x":75,"y":0.112},{"s":"PVA/GO/Av","x":85,"y":0.102},{"s":"PVA/GO/Av","x":95,"y":0.138},{"s":"PVA/GO/Av","x":105,"y":0.129},{"s":"PVA/GO/Av","x":115,"y":0.158},{"s":"PVA/GO/Av","x":125,"y":0.15},{"s":"PVA/GO/Av","x":135,"y":0.195},{"s":"PVA/GO/Av","x":145,"y":0.192},{"s":"PVA/GO/Av","x":155,"y":0.223},{"s":"PVA/GO/Av","x":165,"y":0.219},{"s":"PVA/GO/Av","x":175,"y":0.262},{"s":"PVA/GO/Av","x":185,"y":0.26},{"s":"PVA/GO/Av","x":195,"y":0.296},{"s":"PVA/GO/Av","x":205,"y":0.296},{"s":"PVA/GO/Av","x":215,"y":0.349},{"s":"PVA/GO/Av","x":225,"y":0.353},{"s":"PVA/GO/Av","x":235,"y":0.392},{"s":"PVA/GO/Av","x":245,"y":0.396},{"s":"PVA/GO/Av","x":255,"y":0.445},{"s":"PVA/GO/Av","x":265,"y":0.448},{"s":"PVA/GO/Av","x":275,"y":0.491},{"s":"PVA/GO/Av","x":285,"y":0.5},{"s":"PVA/GO/Av","x":295,"y":0.557},{"s":"PVA/GO/Av","x":305,"y":0.56},{"s":"PVA/GO/Av","x":315,"y":0.594},{"s":"PVA/GO/Av","x":325,"y":0.592},{"s":"PVA/GO/Av","x":335,"y":0.637},{"s":"PVA/GO/Av","x":345,"y":0.644},{"s":"PVA/GO/Av","x":355,"y":0.694},{"s":"PVA/GO/Av","x":365,"y":0.705},{"s":"PVA/GO/Av","x":375,"y":0.763},{"s":"PVA/GO/Av","x":385,"y":0.77},{"s":"PVA/GO/Av","x":395,"y":0.817},{"s":"PVA/GO/Av","x":405,"y":0.826},{"s":"PVA/GO/Av","x":415,"y":0.875},{"s":"PVA/GO/Av","x":425,"y":0.878},{"s":"PVA/GO/Av","x":435,"y":0.924},{"s":"PVA/GO/Av","x":445,"y":0.935},{"s":"PVA/GO/Av","x":455,"y":0.995},{"s":"PVA/GO/Av","x":465,"y":1.008},{"s":"PVA/GO/Av","x":475,"y":1.054},{"s":"PVA/GO/Av","x":485,"y":1.063}
  ]},
  "layer": [
    {
      "mark": {"type": "line", "strokeWidth": 3.2, "clip": true, "strokeJoin": "round"},
      "encoding": {
        "x": {"field": "x", "type": "quantitative", "sort": null, "scale": {"domain": [0, 650], "nice": false, "zero": false},
              "axis": {"title": "Strain (%)", "values": [0,100,200,300,400,500,600], "tickSize": 12, "labelPadding": 10, "titleBaseline": "top", "titleY": 66, "labelFlush": false, "labelOverlap": false}},
        "y": {"field": "y", "type": "quantitative", "scale": {"domain": [0, 1.7], "nice": false},
              "axis": {"title": "Stress (MPa)", "values": [0,0.2,0.4,0.6,0.8,1.0,1.2,1.4,1.6], "format": ".1f", "tickSize": 13, "labelPadding": 10, "titleX": -90, "titleY": 302, "titleBaseline": "bottom", "titleAngle": -90, "labelFlush": false, "labelOverlap": false}},
        "order": {"field": "x", "type": "quantitative"},
        "color": {"field": "s", "type": "nominal",
          "scale": {"domain": ["PVA","PVA/Gr001","PVA/Gr005","PVA/GO","PVA/Av","PVA/Gr001/Av","PVA/Gr005/Av","PVA/GO/Av"],
                    "range": ["#111111","#f5334f","#3575ec","#44ee44","#b07ff0","#d4971c","#5cf0c4","#4e1119"]},
          "legend": {"title": null, "orient": "none", "legendX": 50, "legendY": 0, "strokeColor": "black", "padding": 5, "symbolType": "M-2,0H2", "symbolSize": 1056, "symbolStrokeWidth": 3.5, "labelFontSize": 29, "labelFont": "Liberation Sans", "labelColor": "black", "labelOffset": 24, "labelLimit": 0, "rowPadding": 2}}
      }
    },
    {
      "mark": {"type": "line", "strokeOpacity": 0},
      "encoding": {
        "x": {"field": "x", "type": "quantitative", "axis": {"orient": "bottom", "title": null, "labels": false, "domain": false, "values": [50,150,250,350,450,550,650], "tickSize": 6}},
        "y": {"field": "y", "type": "quantitative", "axis": {"orient": "left", "title": null, "labels": false, "domain": false, "values": [0.1,0.3,0.5,0.7,0.9,1.1,1.3,1.5,1.7], "tickSize": 6}}
      }
    }
  ],
  "resolve": {"axis": {"x": "independent", "y": "independent"}}
}
